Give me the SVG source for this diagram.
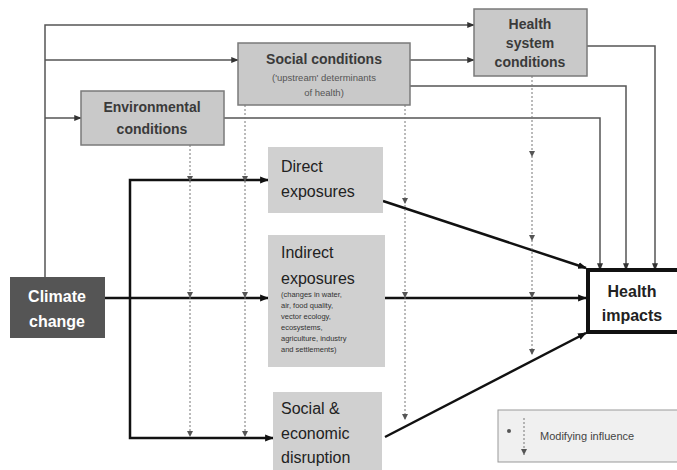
<svg xmlns="http://www.w3.org/2000/svg" width="677" height="470" viewBox="0 0 677 470">
<defs>
<style>
.cond{fill:#c9c9c9;stroke:#7a7a7a;stroke-width:1.5}
.exp{fill:#d0d0d0}
.bt{font-family:"Liberation Sans",Arial,sans-serif;font-weight:bold;fill:#3a3a3a;font-size:14px;text-anchor:middle}
.et{font-family:"Liberation Sans",Arial,sans-serif;fill:#222;font-size:16px}
.st{font-family:"Liberation Sans",Arial,sans-serif;fill:#333;font-size:7.5px}
.thin{fill:none;stroke:#555;stroke-width:1.5}
.thick{fill:none;stroke:#111;stroke-width:2.5}
.dot{fill:none;stroke:#777;stroke-width:1;stroke-dasharray:2,2}
.mk{fill:#555}
</style>
<marker id="ah" viewBox="0 0 10 10" refX="9" refY="5" markerWidth="5" markerHeight="5" orient="auto"><path d="M0,1 L10,5 L0,9 z" fill="#333"/></marker>
<marker id="ahk" viewBox="0 0 10 10" refX="9" refY="5" markerWidth="3.5" markerHeight="3.5" orient="auto"><path d="M0,1 L10,5 L0,9 z" fill="#111"/></marker>
</defs>

<g id="connectors">
<path class="thin" d="M45,277 V25 H474" marker-end="url(#ah)"/>
<path class="thin" d="M45,60 H238" marker-end="url(#ah)"/>
<path class="thin" d="M45,118 H81" marker-end="url(#ah)"/>
<path class="thin" d="M410,60 H474" marker-end="url(#ah)"/>
<path class="thin" d="M587,46 H655 V270" marker-end="url(#ah)"/>
<path class="thin" d="M410,86 H626 V270" marker-end="url(#ah)"/>
<path class="thin" d="M224,118 H600 V270" marker-end="url(#ah)"/>
<path class="thick" d="M105,298 H268" marker-end="url(#ahk)"/>
<path class="thick" d="M130,298 V180 H268" marker-end="url(#ahk)"/>
<path class="thick" d="M130,298 V438 H273" marker-end="url(#ahk)"/>
<path class="thick" d="M385,298 H586" marker-end="url(#ahk)"/>
<path class="thick" d="M383,201 L586,268" marker-end="url(#ahk)"/>
<path class="thick" d="M385,437 L586,333" marker-end="url(#ahk)"/>
<path class="dot" d="M190,145 V437"/>
<path class="dot" d="M245,105 V437"/>
<path class="dot" d="M405,105 V420"/>
<path class="dot" d="M532,76 V355"/>
<g class="mk">
<path d="M187,176 L193,176 L190,182 z"/><path d="M187,292 L193,292 L190,298 z"/><path d="M187,431 L193,431 L190,437 z"/>
<path d="M242,176 L248,176 L245,182 z"/><path d="M242,292 L248,292 L245,298 z"/><path d="M242,431 L248,431 L245,437 z"/>
<path d="M402,198 L408,198 L405,204 z"/><path d="M402,292 L408,292 L405,298 z"/><path d="M402,414 L408,414 L405,420 z"/>
<path d="M529,151 L535,151 L532,157 z"/><path d="M529,235 L535,235 L532,241 z"/><path d="M529,292 L535,292 L532,298 z"/><path d="M529,349 L535,349 L532,355 z"/>
</g>
</g>

<g id="climate-change">
<rect x="10" y="277" width="95" height="61" fill="#555"/>
<text class="bt" x="57" y="302" style="fill:#fff;font-size:16px">Climate</text>
<text class="bt" x="57" y="327" style="fill:#fff;font-size:16px">change</text>
</g>

<g id="environmental-conditions">
<rect class="cond" x="81" y="91" width="143" height="54"/>
<text class="bt" x="152" y="112">Environmental</text>
<text class="bt" x="152" y="134">conditions</text>
</g>

<g id="social-conditions">
<rect class="cond" x="238" y="43" width="172" height="62"/>
<text class="bt" x="324" y="64">Social conditions</text>
<text class="st" x="324" y="81" style="font-size:9.5px;text-anchor:middle;fill:#555">('upstream' determinants</text>
<text class="st" x="324" y="96" style="font-size:9.5px;text-anchor:middle;fill:#555">of health)</text>
</g>

<g id="health-system-conditions">
<rect class="cond" x="474" y="9" width="113" height="67"/>
<text class="bt" x="530" y="29">Health</text>
<text class="bt" x="530" y="48">system</text>
<text class="bt" x="530" y="67">conditions</text>
</g>

<g id="direct-exposures">
<rect class="exp" x="268" y="147" width="115" height="66"/>
<text class="et" x="281" y="172">Direct</text>
<text class="et" x="281" y="197">exposures</text>
</g>

<g id="indirect-exposures">
<rect class="exp" x="268" y="235" width="117" height="132"/>
<text class="et" x="281" y="258">Indirect</text>
<text class="et" x="281" y="284">exposures</text>
<text class="st" x="281" y="297">(changes in water,</text>
<text class="st" x="281" y="308">air, food quality,</text>
<text class="st" x="281" y="319">vector ecology,</text>
<text class="st" x="281" y="330">ecosystems,</text>
<text class="st" x="281" y="341">agriculture, industry</text>
<text class="st" x="281" y="352">and settlements)</text>
</g>

<g id="social-economic-disruption">
<rect class="exp" x="273" y="392" width="109" height="78"/>
<text class="et" x="281" y="414">Social &amp;</text>
<text class="et" x="281" y="439">economic</text>
<text class="et" x="281" y="463">disruption</text>
</g>

<g id="health-impacts">
<rect x="588" y="270" width="92" height="62" fill="#fff" stroke="#111" stroke-width="4"/>
<text class="bt" x="632" y="297" style="fill:#222;font-size:16px">Health</text>
<text class="bt" x="632" y="321" style="fill:#222;font-size:16px">impacts</text>
</g>

<g id="legend">
<rect x="498" y="410" width="182" height="52" fill="#f0f0f0" stroke="#999" stroke-width="1"/>
<circle cx="509" cy="431" r="2" fill="#555"/>
<path class="dot" d="M524,418 V455"/>
<path class="mk" d="M521,449 L527,449 L524,455 z"/>
<text class="st" x="540" y="440" style="font-size:11px;fill:#444">Modifying influence</text>
</g>
</svg>
